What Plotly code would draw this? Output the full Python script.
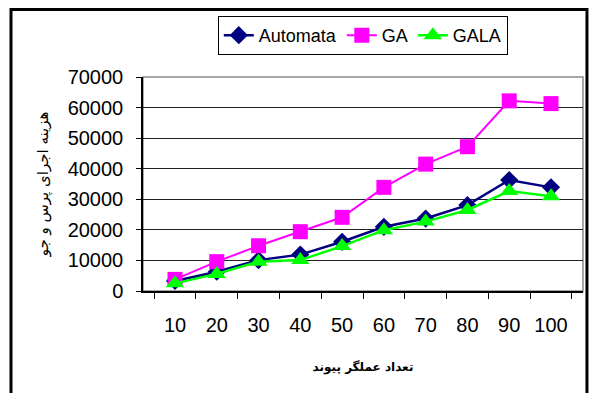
import plotly.graph_objects as go

categories = ["10", "20", "30", "40", "50", "60", "70", "80", "90", "100"]
automata = [3300, 6300, 10100, 11900, 16100, 21000, 23700, 28100, 36300, 33900]
ga = [3800, 9600, 14800, 19400, 24100, 33900, 41500, 47200, 62200, 61300]
gala = [2500, 5600, 9600, 10100, 14700, 19900, 22700, 26500, 32700, 31000]

fig = go.Figure()

fig.add_trace(
    go.Scatter(
        x=categories,
        y=automata,
        mode="lines+markers",
        name="Automata",
        line={"color": "#000080", "width": 2.5},
        marker={"symbol": "diamond", "size": 14, "color": "#000080"},
    )
)
fig.add_trace(
    go.Scatter(
        x=categories,
        y=ga,
        mode="lines+markers",
        name="GA",
        line={"color": "#FF00FF", "width": 2},
        marker={"symbol": "square", "size": 15, "color": "#FF00FF"},
    )
)
fig.add_trace(
    go.Scatter(
        x=categories,
        y=gala,
        mode="lines+markers",
        name="GALA",
        line={"color": "#00FF00", "width": 2.5},
        marker={"symbol": "triangle-up", "size": 16, "color": "#00FF00"},
    )
)

# gray frame around the plot area
fig.add_shape(
    type="rect", xref="paper", yref="paper",
    x0=0, x1=1, y0=0, y1=1,
    line={"color": "#8c8c8c", "width": 1.5},
    layer="below",
)
# outer chart border
fig.add_shape(
    type="rect", xref="paper", yref="paper",
    x0=-0.3, x1=1.009, y0=-0.6, y1=1.315,
    line={"color": "black", "width": 3},
)

# page body adds an 8px margin, so the figure is kept inside the window
fig.update_layout(
    width=581,
    height=385,
    margin={"l": 135, "r": 6, "t": 69, "b": 102, "autoexpand": False},
    paper_bgcolor="white",
    plot_bgcolor="white",
    font={"family": "Liberation Sans, Arial, sans-serif", "size": 20, "color": "black"},
    showlegend=True,
    legend={
        "orientation": "h",
        "x": 0.17,
        "y": 1.285,
        "xanchor": "left",
        "yanchor": "top",
        "bordercolor": "black",
        "borderwidth": 1,
        "font": {"size": 18},
        "itemwidth": 30,
        "tracegroupgap": 0,
    },
    xaxis={
        "type": "category",
        "automargin": False,
        "tickangle": 0,
        "tickson": "boundaries",
        "ticks": "outside",
        "ticklen": 6,
        "tickcolor": "black",
        "showline": True,
        "linecolor": "black",
        "linewidth": 1.5,
        "showgrid": False,
        "ticklabelstandoff": 15,
        "title": {
            "text": "<b>تعداد عملگر پیوند</b>",
            "font": {"family": "DejaVu Sans, sans-serif", "size": 12},
            "standoff": 28,
        },
    },
    yaxis={
        "automargin": False,
        "range": [0, 70000],
        "dtick": 10000,
        "tickformat": "d",
        "ticks": "outside",
        "ticklen": 5,
        "tickcolor": "black",
        "showline": True,
        "linecolor": "black",
        "linewidth": 1.5,
        "showgrid": True,
        "gridcolor": "#222222",
        "gridwidth": 1,
        "zeroline": False,
        "ticklabelstandoff": 9,
        "title": {
            "text": "هزینه اجرای پرس و جو",
            "font": {"family": "DejaVu Sans, sans-serif", "size": 15},
            "standoff": 15,
        },
    },
)

fig.write_html("out.html")
